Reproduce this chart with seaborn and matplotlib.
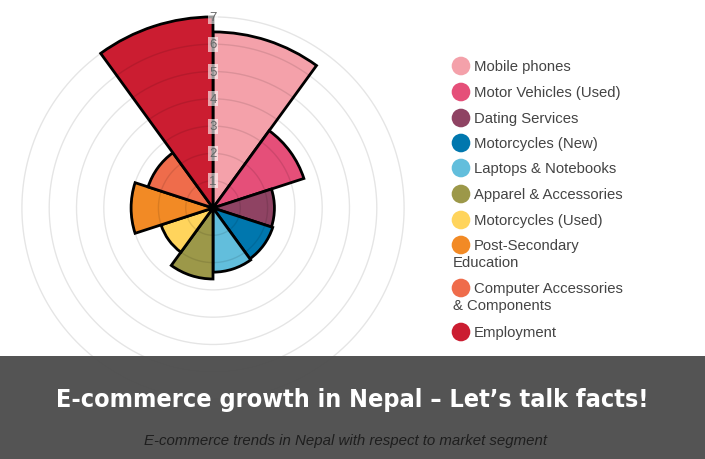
import numpy as np
import pandas as pd
import matplotlib
matplotlib.use("Agg")
import matplotlib.pyplot as plt
from matplotlib.patches import Rectangle
import seaborn as sns

categories = ["Mobile phones", "Motor Vehicles (Used)", "Dating Services",
              "Motorcycles (New)", "Laptops & Notebooks", "Apparel & Accessories",
              "Motorcycles (Used)", "Post-Secondary Education",
              "Computer Accessories & Components", "Employment"]
values = [6.45, 3.5, 2.25, 2.3, 2.35, 2.6, 2.0, 3.0, 2.5, 7.0]
legend_lines = [["Mobile phones"], ["Motor Vehicles (Used)"], ["Dating Services"],
                ["Motorcycles (New)"], ["Laptops & Notebooks"], ["Apparel & Accessories"],
                ["Motorcycles (Used)"], ["Post-Secondary", "Education"],
                ["Computer Accessories", "& Components"], ["Employment"]]
colors = ["#F4A1AA", "#E54F79", "#8F4363", "#0077AE", "#62BEDC",
          "#9C9849", "#FFD45C", "#F28A25", "#EF6C4B", "#CB1D31"]
r_ticks = [1, 2, 3, 4, 5, 6, 7]
title = "E-commerce growth in Nepal \u2013 Let\u2019s talk facts!"
subtitle = "E-commerce trends in Nepal with respect to market segment"

sns.set_theme(style="white")
plt.rcParams["font.family"] = ["Liberation Sans", "DejaVu Sans"]

df = pd.DataFrame({"category": categories, "value": values, "color": colors})
n = len(df)
width = 2 * np.pi / n
df["theta"] = np.arange(n) * width

W, H = 705, 460
fig = plt.figure(figsize=(W / 100, H / 100), dpi=100)
fig.patch.set_facecolor("white")

cx, cy = 213, 209
unit = 27.3
rmax = 7.1
R = rmax * unit
ax = fig.add_axes([(cx - R) / W, (H - cy - R) / H, 2 * R / W, 2 * R / H], projection="polar")
ax.set_theta_zero_location("N")
ax.set_theta_direction(-1)
ax.set_facecolor("none")
ax.bar(df["theta"], df["value"], width=width, align="edge", color=df["color"],
       edgecolor="black", linewidth=2, zorder=2)
ax.set_ylim(0, rmax)
ax.set_yticks(r_ticks)
ax.set_yticklabels([])
ax.set_xticks([])
ax.spines["polar"].set_visible(False)
ax.grid(False)
th = np.linspace(0, 2 * np.pi, 400)
for r in r_ticks:
    ax.plot(th, np.full_like(th, r), color=(0, 0, 0, 0.1), lw=1, zorder=3)
for r in r_ticks:
    ax.text(0, r, str(r), ha="center", va="center", fontsize=9.5, color="#666666",
            zorder=5, bbox=dict(boxstyle="square,pad=0.12", fc=(1, 1, 1, 0.6), ec="none"))

# legend
lax = fig.add_axes([0, 0, 1, 1])
lax.set_xlim(0, W)
lax.set_ylim(H, 0)
lax.axis("off")
row_y = [67, 93, 119, 144, 169, 195, 221, 246, 289, 333]
for y, lines, c in zip(row_y, legend_lines, colors):
    lax.scatter([461], [y], s=180, color=c, edgecolor="none")
    lax.text(474, y, lines[0], ha="left", va="center", fontsize=10.7, color="#444444")
    if len(lines) > 1:
        lax.text(453, y + 17.5, lines[1], ha="left", va="center", fontsize=10.7, color="#444444")

# bottom band
band = Rectangle((0, 357), W, H - 357, facecolor="#4d4d4d", alpha=0.96, edgecolor="none", zorder=10)
lax.add_patch(band)
lax.text(352, 400, title, ha="center", va="center", color="white", fontsize=18,
         fontweight="bold", fontstretch="condensed", family="DejaVu Sans", zorder=11)
lax.text(346, 441, subtitle, ha="center", va="center", color="#1e1e1e", fontsize=10.8,
         style="italic", zorder=11)

fig.savefig("out.png", dpi=100)
